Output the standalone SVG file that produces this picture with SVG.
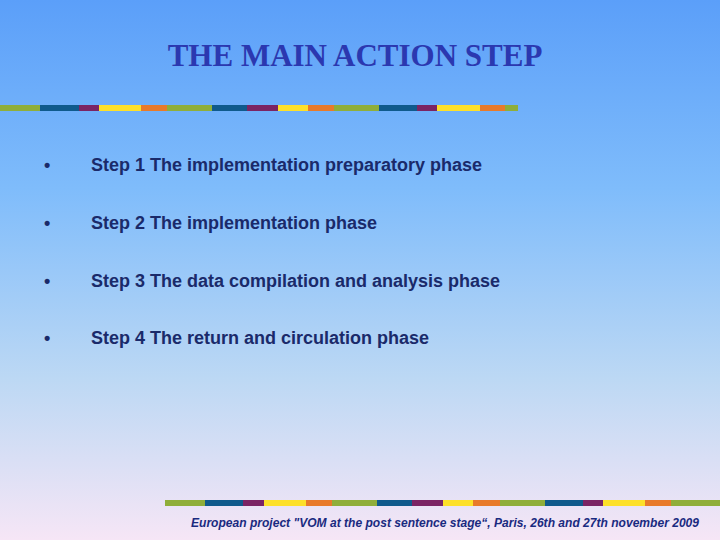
<svg xmlns="http://www.w3.org/2000/svg" width="720" height="540" viewBox="0 0 720 540">
<defs>
<linearGradient id="bg" x1="0" y1="0" x2="0" y2="1">
<stop offset="0" stop-color="#5b9ff9"/>
<stop offset="0.35" stop-color="#7fbcfb"/>
<stop offset="0.7" stop-color="#bcd8f4"/>
<stop offset="1" stop-color="#f6e6f6"/>
</linearGradient>
<style>
.g{fill:#8fae3a}.b{fill:#0f5a8c}.p{fill:#7b2464}.y{fill:#fde02a}.o{fill:#e87a2a}
.t{font-family:"Liberation Sans",Arial,sans-serif;font-size:18px;font-weight:bold;fill:#1a2a6a}
</style>
</defs>
<rect width="720" height="540" fill="url(#bg)"/>
<g id="title"><text x="355" y="66" text-anchor="middle" font-family="'Liberation Serif','DejaVu Serif',serif" font-weight="bold" font-size="31" fill="#2b38b0">THE MAIN ACTION STEP</text></g>
<g id="topbar">
<rect class="g" x="0" y="105" width="40" height="6"/><rect class="b" x="40" y="105" width="39" height="6"/><rect class="p" x="79" y="105" width="20" height="6"/><rect class="y" x="99" y="105" width="42" height="6"/><rect class="o" x="141" y="105" width="26" height="6"/>
<rect class="g" x="167" y="105" width="45" height="6"/><rect class="b" x="212" y="105" width="35" height="6"/><rect class="p" x="247" y="105" width="31" height="6"/><rect class="y" x="278" y="105" width="30" height="6"/><rect class="o" x="308" y="105" width="26" height="6"/>
<rect class="g" x="334" y="105" width="45" height="6"/><rect class="b" x="379" y="105" width="38" height="6"/><rect class="p" x="417" y="105" width="20" height="6"/><rect class="y" x="437" y="105" width="43" height="6"/><rect class="o" x="480" y="105" width="25" height="6"/><rect class="g" x="505" y="105" width="13" height="6"/>
</g>
<g id="bottombar">
<rect class="g" x="165" y="500" width="40" height="6"/><rect class="b" x="205" y="500" width="38" height="6"/><rect class="p" x="243" y="500" width="21" height="6"/><rect class="y" x="264" y="500" width="42" height="6"/><rect class="o" x="306" y="500" width="26" height="6"/>
<rect class="g" x="332" y="500" width="45" height="6"/><rect class="b" x="377" y="500" width="35" height="6"/><rect class="p" x="412" y="500" width="31" height="6"/><rect class="y" x="443" y="500" width="30" height="6"/><rect class="o" x="473" y="500" width="27" height="6"/>
<rect class="g" x="500" y="500" width="45" height="6"/><rect class="b" x="545" y="500" width="38" height="6"/><rect class="p" x="583" y="500" width="20" height="6"/><rect class="y" x="603" y="500" width="42" height="6"/><rect class="o" x="645" y="500" width="26" height="6"/><rect class="g" x="671" y="500" width="49" height="6"/>
</g>
<g id="step1"><text class="t" x="44" y="171">•</text><text class="t" x="91" y="171">Step 1  The implementation preparatory phase</text></g>
<g id="step2"><text class="t" x="44" y="229">•</text><text class="t" x="91" y="229">Step 2  The implementation phase</text></g>
<g id="step3"><text class="t" x="44" y="287">•</text><text class="t" x="91" y="287">Step 3  The data compilation and analysis phase</text></g>
<g id="step4"><text class="t" x="44" y="344">•</text><text class="t" x="91" y="344">Step 4  The return and circulation phase</text></g>
<g id="footer"><text x="445" y="527" text-anchor="middle" font-family="'Liberation Sans',Arial,sans-serif" font-size="12" font-style="italic" font-weight="bold" fill="#1a2a80" textLength="508" lengthAdjust="spacingAndGlyphs">European project "VOM at the post sentence stage“, Paris, 26th and 27th november 2009</text></g>
</svg>
